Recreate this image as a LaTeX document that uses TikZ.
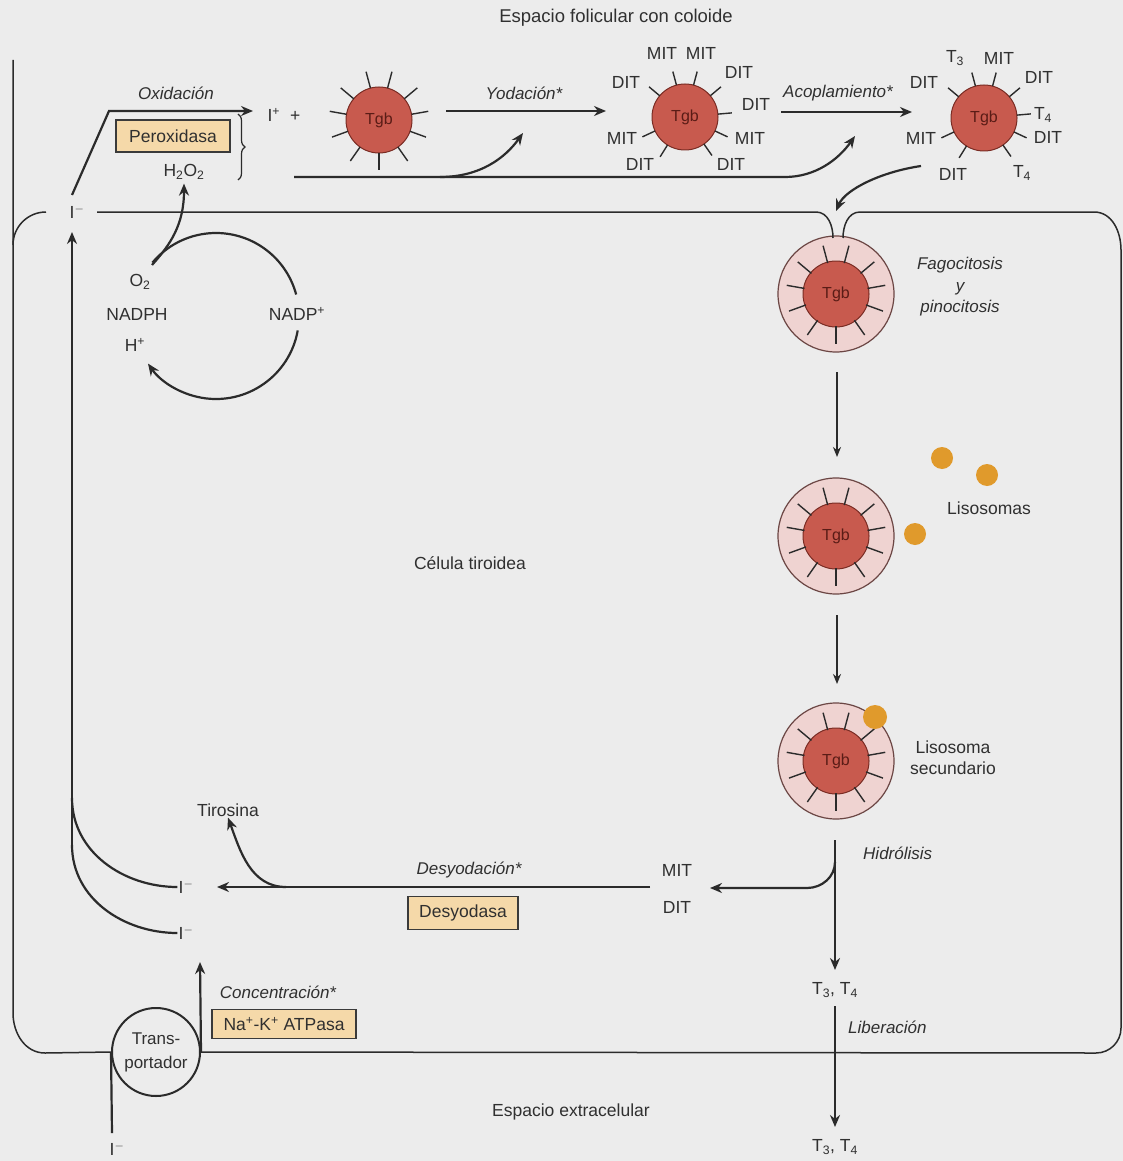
\documentclass[tikz,border=0pt]{standalone}
\usepackage{fontspec}
\setmainfont{Liberation Sans}
\usetikzlibrary{arrows.meta,decorations.pathreplacing}

\definecolor{paper}{HTML}{ECECEC}
\definecolor{ink}{HTML}{2B2B2B}
\definecolor{txt}{HTML}{303030}
\definecolor{tgbfill}{HTML}{C85A4E}
\definecolor{tgbdraw}{HTML}{7A2C24}
\definecolor{tgbtext}{HTML}{5A1C16}
\definecolor{vesfill}{HTML}{EFD3D1}
\definecolor{vesdraw}{HTML}{6B4644}
\definecolor{lysofill}{HTML}{E09A2C}
\definecolor{boxfill}{HTML}{F5D9A9}
\definecolor{boxdraw}{HTML}{3A3A3A}

\newcommand\lblfont{\fontsize{17.5}{22}\selectfont}
\newcommand\itlfont{\fontsize{17}{21.5}\selectfont\itshape}
\newcommand\tgbfont{\fontsize{16}{18}\selectfont}
% radial spikes around a thyroglobulin node
\newcommand\tgbspikes[4]{%
  \foreach \ang in {#4}{\draw[spike] ([shift={(\ang:#2)}]#1.center) -- ([shift={(\ang:#3)}]#1.center);}}

\begin{document}
\begin{tikzpicture}[x=1pt,y=-1pt,
  every node/.style={text=txt,font=\lblfont,inner sep=1pt},
  tgb/.style={circle,fill=tgbfill,draw=tgbdraw,line width=1pt,minimum size=66pt,inner sep=0pt,text=tgbtext,font=\tgbfont},
  vesicle/.style={circle,fill=vesfill,draw=vesdraw,line width=1.2pt,minimum size=116pt,inner sep=0pt},
  spike/.style={draw=ink,line width=1.4pt},
  membrane/.style={draw=ink,line width=1.5pt},
  route/.style={draw=ink,line width=2.2pt},
  flow/.style={draw=ink,line width=2.2pt,-{Stealth[length=12pt,width=10pt]}},
  thinflow/.style={draw=ink,line width=1.8pt,-{Stealth[length=10pt,width=8pt]}},
  enzyme/.style={draw=boxdraw,fill=boxfill,line width=1.2pt,inner sep=0pt,minimum height=32pt},
  lyso/.style={circle,fill=lysofill,minimum size=22pt,inner sep=0pt},
  italic/.style={font=\itlfont},
  transporter/.style={circle,draw=ink,line width=2pt,minimum size=88pt,inner sep=0pt,align=center,font=\fontsize{17}{24}\selectfont}
]
\fill[paper] (0,0) rectangle (1123,1161);
\useasboundingbox (0,0) rectangle (1123,1161);

% ---------- vesicles (drawn first so membrane neck lies on top)
\node[vesicle] (v1) at (836,294) {};
\node[vesicle] (v2) at (836,536) {};
\node[vesicle] (v3) at (836,761) {};
\node[tgb] (tv1) at (836,294) {Tgb};
\node[tgb] (tv2) at (836,536) {Tgb};
\node[tgb] (tv3) at (836,761) {Tgb};
\tgbspikes{tv1}{32pt}{50pt}{75,105,140,40,10,170,-20,200,-55,-90,235}
\tgbspikes{tv2}{32pt}{50pt}{75,105,140,40,10,170,-20,200,-55,-90,235}
\tgbspikes{tv3}{32pt}{50pt}{75,105,140,40,10,170,-20,200,-55,-90,235}

% ---------- transporter
\node[transporter] (trans) at (156,1052) {Trans-\\portador};

% ---------- cell membrane
\draw[membrane] (13,60) -- (13,1013) to[out=-90,in=180] (45,1053) -- (trans.west);
\draw[membrane] (trans.east) -- (1096,1053) to[out=0,in=-90] (1121,1028) -- (1121,250)
  to[out=90,in=0] (1094,212) -- (860,212) to[out=180,in=90] (843,238);
\draw[membrane] (833,238) to[out=90,in=0] (816,212) -- (97,212);
\draw[membrane] (46,212) to[out=180,in=90] (13,245);

% ---------- titles
\node[font=\fontsize{18.5}{22}\selectfont] (title) at (616,18) {Espacio folicular con coloide};
\node (cell) at (470,563) {Célula tiroidea};
\node (extra) at (571,1112) {Espacio extracelular};

% ---------- oxidation
\node (itop) at (77,212) {I$^{-}$};
\node[italic] (oxlab) at (176,93) {Oxidación};
\node[enzyme,minimum width=114pt] (perox) at (173,136) {Peroxidasa};
\node (h2o2) at (184,172) {H\textsubscript{2}O\textsubscript{2}};
\node (iplus) at (284,115) {I\textsuperscript{+}\hspace{10pt}+};
\draw[line width=1.2pt,ink,decorate,decoration={brace,amplitude=7pt}] (238,114) -- (238,180);
\coordinate (oxa) at (72,195);
\coordinate (oxb) at (109,111);
\coordinate (oxc) at (253,111);
\draw[flow] (oxa) -- (oxb) -- (oxc);

% ---------- thyroglobulin, iodination, coupling
\node[tgb] (tg1) at (379,120) {Tgb};
\tgbspikes{tg1}{33pt}{50pt}{75,105,140,40,10,170,-20,200,-55,-90,235}
\node[italic] (yodlab) at (524,93) {Yodación*};
\coordinate (yoda) at (446,111);
\coordinate (yodb) at (606,111);
\draw[flow] (yoda) -- (yodb);

\node[tgb] (tg2) at (685,117) {Tgb};
\tgbspikes{tg2}{33pt}{47pt}{105,75,140,40,5,205,-25,238,-55}
\node at (662,53) {MIT};
\node at (701,53) {MIT};
\node at (626,82) {DIT};
\node at (739,72) {DIT};
\node at (756,104) {DIT};
\node at (622,138) {MIT};
\node at (750,138) {MIT};
\node at (640,164) {DIT};
\node at (731,164) {DIT};

\node[italic] (acolab) at (838,93) {Acoplamiento*};
\coordinate (acoa) at (781,112);
\coordinate (acob) at (912,112);
\draw[flow] (acoa) -- (acob);

\node[tgb] (tg3) at (984,118) {Tgb};
\tgbspikes{tg3}{33pt}{47pt}{105,75,140,40,5,205,-25,238,-55}
\node at (955,58) {T\textsubscript{3}};
\node at (999,58) {MIT};
\node at (924,82) {DIT};
\node at (1039,77) {DIT};
\node at (1043,115) {T\textsubscript{4}};
\node at (921,138) {MIT};
\node at (1048,137) {DIT};
\node at (953,174) {DIT};
\node at (1022,173) {T\textsubscript{4}};

% enzyme line feeding iodination and coupling
\coordinate (enza) at (294,177);
\coordinate (enzb) at (785,177);
\coordinate (enzc) at (855,136);
\coordinate (enzd) at (440,177);
\coordinate (enze) at (523,133);
\draw[flow] (enza) -- (enzb) .. controls (815,177) and (838,160) .. (enzc);
\draw[flow] (enzd) .. controls (480,177) and (505,158) .. (enze);

% Tgb back into the cell
\coordinate (endo) at (836,211);
\draw[flow] (921,166) .. controls (880,172) and (845,190) .. (endo);

% ---------- NADPH cycle
\node (o2) at (140,282) {O\textsubscript{2}};
\node (nadph) at (137,314) {NADPH};
\node (hplus) at (135,345) {H\textsuperscript{+}};
\node (nadp) at (297,314) {NADP\textsuperscript{+}};
\coordinate (cyc) at (216,316);
\draw[route] (cyc) ++(140:83pt) arc[start angle=140,end angle=15,radius=83pt];
\draw[flow] (cyc) ++(-10:83pt) arc[start angle=-10,end angle=-145,radius=83pt];
\coordinate (h2a) at (152,265);
\draw[flow,shorten >=3pt] (h2a) .. controls (170,245) and (184,225) .. (h2o2.south);

% ---------- phagocytosis and lysosomes
\node[italic,align=center] (fagolab) at (960,287) {Fagocitosis\\y\\pinocitosis};
\coordinate (d1a) at (837,372);
\coordinate (d1b) at (837,457);
\draw[thinflow] (d1a) -- (d1b);
\node[lyso] (l1) at (942,458) {};
\node[lyso] (l2) at (987,475) {};
\node[lyso] (l3) at (915,534) {};
\node (lisolab) at (989,508) {Lisosomas};
\coordinate (d2a) at (837,615);
\coordinate (d2b) at (837,684);
\draw[thinflow] (d2a) -- (d2b);
\node[lyso,minimum size=24pt] (l4) at (875,717) {};
\node[align=center,font=\fontsize{17.5}{21}\selectfont] (lis2lab) at (953,758) {Lisosoma\\secundario};

% ---------- hydrolysis and release
\node[italic,anchor=west] (hidlab) at (862,853) {Hidrólisis};
\coordinate (hya) at (835,840);
\coordinate (hyb) at (835,970);
\coordinate (hyc) at (835,862);
\coordinate (hyd) at (807,888);
\coordinate (hye) at (710,888);
\draw[flow] (hya) -- (hyb);
\draw[flow] (hyc) to[out=-90,in=0] (hyd) -- (hye);
\node (t34a) at (835,990) {T\textsubscript{3}, T\textsubscript{4}};
\node[italic,anchor=west] (liblab) at (847,1027) {Liberación};
\coordinate (lba) at (835,1006);
\coordinate (lbb) at (835,1127);
\draw[flow] (lba) -- (lbb);
\node (t34b) at (835,1147) {T\textsubscript{3}, T\textsubscript{4}};

% ---------- deiodination
\node (mit) at (677,870) {MIT};
\node (dit) at (677,907) {DIT};
\node[italic] (desylab) at (469,870) {Desyodación*};
\node[enzyme,minimum width=110pt,minimum height=33pt] (desy) at (463,913) {Desyodasa};
\node (iup) at (186,887) {I$^{-}$};
\node (ilow) at (186,933) {I$^{-}$};
\node (tiro) at (228,810) {Tirosina};
\coordinate (dya) at (650,887);
\coordinate (dyb) at (217,887);
\draw[flow] (dya) -- (dyb);
\coordinate (tya) at (286,887);
\draw[flow] (tya) to[out=180,in=-70] (tiro.south);

% ---------- iodide recycling up the left side
\coordinate (ra) at (72,798);
\coordinate (rb) at (72,845);
\coordinate (rc) at (72,232);
\draw[route] (iup.west) to[out=180,in=-90] (ra);
\draw[route] (ilow.west) to[out=180,in=-90] (rb);
\draw[flow] (rb) -- (rc);

% ---------- uptake
\node[italic] (conclab) at (278,992) {Concentración*};
\node[enzyme,minimum width=144pt,minimum height=29pt] (nak) at (284,1024) {Na\textsuperscript{+}-K\textsuperscript{+} ATPasa};
\node (iext) at (117,1149) {I$^{-}$};
\coordinate (upa) at (112,1133);
\coordinate (upb) at (200,962);
\draw[route] (upa) -- (trans.west);
\draw[flow] (trans.east) -- (upb);
\end{tikzpicture}
\end{document}
